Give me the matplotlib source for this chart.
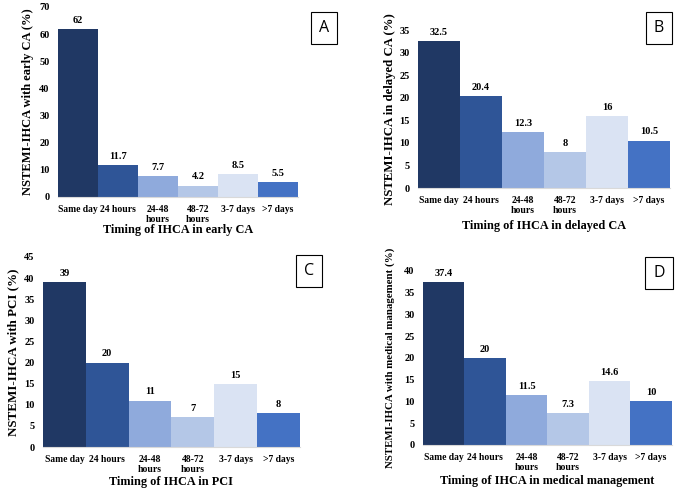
#! /usr/bin/env python
import matplotlib
matplotlib.use('Agg')
import matplotlib.pyplot as plt

# data
categories = ['Same day', '24 hours', '24-48\nhours', '48-72\nhours', '3-7 days', '>7 days']
early_ca = [62, 11.7, 7.7, 4.2, 8.5, 5.5]
delayed_ca = [32.5, 20.4, 12.3, 8, 16, 10.5]
pci = [39, 20, 11, 7, 15, 8]
medical = [37.4, 20, 11.5, 7.3, 14.6, 10]
value_labels_a = ['62', '11.7', '7.7', '4.2', '8.5', '5.5']
value_labels_b = ['32.5', '20.4', '12.3', '8', '16', '10.5']
value_labels_c = ['39', '20', '11', '7', '15', '8']
value_labels_d = ['37.4', '20', '11.5', '7.3', '14.6', '10']

colors = ['#203864', '#2F5597', '#8FAADC', '#B4C7E7', '#DAE3F3', '#4472C4']

plt.rcParams['font.family'] = ['Liberation Serif', 'DejaVu Serif']
plt.rcParams['font.weight'] = 'bold'

fig = plt.figure(figsize=(6.8, 4.91), dpi=100)

panels = [
    # rect, values, labels, ymax, ystep, ylabel, ylabel size, ylabel x, xlabel y, xlabel, letter, letter pos
    ([0.0853, 0.5988, 0.353, 0.387], early_ca, value_labels_a, 70, 10,
     'NSTEMI-IHCA with early CA (%)', 9.0, -0.125, -0.176,
     'Timing of IHCA in early CA', 'A', (0.476, 0.943)),
    ([0.6147, 0.6171, 0.3706, 0.3218], delayed_ca, value_labels_b, 35, 5,
     'NSTEMI-IHCA in delayed CA (%)', 9.2, -0.111, -0.24,
     'Timing of IHCA in delayed CA', 'B', (0.969, 0.943)),
    ([0.0632, 0.0896, 0.378, 0.387], pci, value_labels_c, 45, 5,
     'NSTEMI-IHCA with PCI (%)', 9.4, -0.117, -0.183,
     'Timing of IHCA in PCI', 'C', (0.454, 0.448)),
    ([0.622, 0.0937, 0.366, 0.3544], medical, value_labels_d, 40, 5,
     'NSTEMI-IHCA with medical management (%)', 7.8, -0.1325, -0.205,
     'Timing of IHCA in medical management', 'D', (0.969, 0.444)),
]

for rect, vals, vlabels, ymax, ystep, ylab, ysize, yx, xy, xlab, letter, lpos in panels:
    ax = fig.add_axes(rect)
    x = range(len(categories))
    bars = ax.bar(x, vals, width=1.0, color=colors)
    ax.bar_label(bars, labels=vlabels, padding=3, fontsize=7.5, fontweight='bold')
    ax.set_xlim(-0.5, len(categories) - 0.5)
    ax.set_ylim(0, ymax)
    ax.set_yticks(range(0, ymax + 1, ystep))
    ax.set_xticks(list(x))
    ax.set_xticklabels(categories, fontsize=6.9, fontweight='bold', linespacing=1.05)
    ax.tick_params(axis='y', length=0, labelsize=7.5, pad=6)
    ax.tick_params(axis='x', length=0, pad=6)
    for s in ['top', 'right', 'left']:
        ax.spines[s].set_visible(False)
    ax.spines['bottom'].set_color('#D9D9D9')
    ax.spines['bottom'].set_linewidth(0.8)
    ax.set_ylabel(ylab, fontsize=ysize, fontweight='bold', va='center')
    ax.yaxis.set_label_coords(yx, 0.5)
    ax.set_xlabel(xlab, fontsize=8.8, fontweight='bold', va='center')
    ax.xaxis.set_label_coords(0.5, xy)
    fig.text(lpos[0], lpos[1], letter, fontsize=11.5, fontweight='normal',
             family=['Open Sans', 'DejaVu Sans'], ha='center', va='center',
             bbox=dict(boxstyle='square,pad=0.5', facecolor='white',
                       edgecolor='black', linewidth=0.8))

fig.savefig('out.png', dpi=100)
